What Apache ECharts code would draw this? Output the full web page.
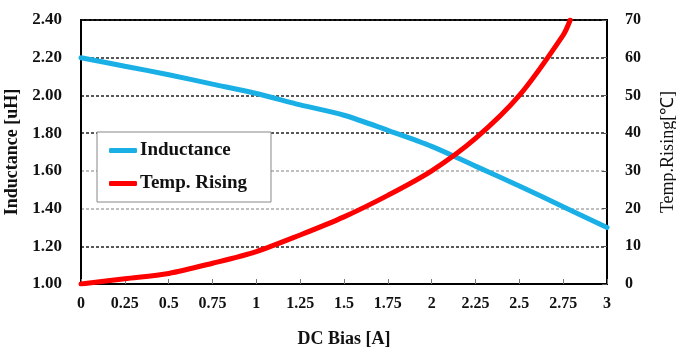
<!DOCTYPE html>
<html>
<head>
<meta charset="utf-8">
<script src="https://cdn.jsdelivr.net/npm/echarts@6/dist/echarts.min.js"></script>
<style>
html,body{margin:0;padding:0;background:#fff;}
#chart{width:676px;height:349px;}
</style>
</head>
<body>
<div id="chart"></div>
<script>
// DC bias [A]
const dcBias = [0, 0.25, 0.5, 0.75, 1.0, 1.25, 1.5, 1.75, 2.0, 2.25, 2.5, 2.75, 3.0];
// Inductance [uH]
const inductance = [2.20, 2.155, 2.11, 2.06, 2.01, 1.95, 1.895, 1.815, 1.73, 1.625, 1.52, 1.41, 1.30];
// Temp rising [°C] (curve leaves the chart at the top near 2.79 A)
const tempBias = [0, 0.25, 0.5, 0.75, 1.0, 1.25, 1.5, 1.75, 2.0, 2.25, 2.5, 2.75, 2.79];
const tempRise = [0, 1.4, 2.8, 5.5, 8.6, 13, 17.8, 23.5, 30, 38.6, 50, 66, 70];

const seriesNames = ['Inductance', 'Temp. Rising'];
const xName = 'DC Bias [A]';
const yLeftName = 'Inductance [uH]';
const yRightName = 'Temp.Rising[℃]';

const font = '"Liberation Serif", "Times New Roman", serif';
const chart = echarts.init(document.getElementById('chart'));
chart.setOption({
  animation: false,
  backgroundColor: '#fff',
  grid: {left: 81, right: 69, top: 20, bottom: 65, containLabel: false, outerBoundsMode: 'none',
         show: true, borderColor: '#000', borderWidth: 2, backgroundColor: 'transparent'},
  legend: {
    orient: 'vertical', left: 97, top: 132,
    backgroundColor: '#fff', borderColor: '#888', borderWidth: 1,
    padding: [9, 24, 9, 12], itemGap: 14,
    itemWidth: 28, itemHeight: 5, icon: 'roundRect',
    textStyle: {fontFamily: font, fontWeight: 'bold', fontSize: 19, color: '#111', padding: [0, 0, 0, -2]},
    data: seriesNames
  },
  xAxis: {
    type: 'value', min: 0, max: 3, interval: 0.25,
    name: xName, nameLocation: 'middle', nameGap: 46,
    nameTextStyle: {fontFamily: font, fontWeight: 'bold', fontSize: 18, color: '#111'},
    axisLine: {show: true, lineStyle: {color: '#000', width: 2}},
    axisTick: {show: true, inside: true, length: 5, lineStyle: {color: '#777'}},
    axisLabel: {fontFamily: font, fontWeight: 'bold', fontSize: 16, color: '#111', margin: 12},
    splitLine: {show: false}
  },
  yAxis: [{
    type: 'value', min: 1.0, max: 2.4, interval: 0.2, position: 'left',
    name: yLeftName, nameLocation: 'middle', nameGap: 49, nameRotate: 90,
    nameTextStyle: {fontFamily: font, fontWeight: 'bold', fontSize: 18, color: '#111'},
    axisLine: {show: true, lineStyle: {color: '#000', width: 2}},
    axisTick: {show: false},
    axisLabel: {fontFamily: font, fontWeight: 'bold', fontSize: 17, color: '#111', margin: 19, formatter: v => v.toFixed(2)},
    splitLine: {show: true, lineStyle: {type: [3, 2], width: 1.5, color: ['#222', '#222', '#aaa', '#aaa', '#222', '#222', '#222', '#222']}}
  }, {
    type: 'value', min: 0, max: 70, interval: 10, position: 'right',
    name: yRightName, nameLocation: 'middle', nameGap: 52, nameRotate: 90,
    nameTextStyle: {fontFamily: font, fontWeight: 'normal', fontSize: 18, color: '#111'},
    axisLine: {show: true, lineStyle: {color: '#000', width: 2}},
    axisTick: {show: true, inside: true, length: 5, lineStyle: {color: '#555'}},
    axisLabel: {fontFamily: font, fontWeight: 'bold', fontSize: 16, color: '#111', margin: 18},
    splitLine: {show: false}
  }],
  series: [{
    name: seriesNames[0], type: 'line', yAxisIndex: 0, smooth: 0.3,
    showSymbol: false, symbol: 'none',
    lineStyle: {color: '#1ab0e6', width: 5, cap: 'round'},
    itemStyle: {color: '#1ab0e6'},
    data: dcBias.map((x, i) => [x, inductance[i]])
  }, {
    name: seriesNames[1], type: 'line', yAxisIndex: 1, smooth: 0.3,
    showSymbol: false, symbol: 'none',
    lineStyle: {color: '#ff0000', width: 5, cap: 'round'},
    itemStyle: {color: '#ff0000'},
    data: tempBias.map((x, i) => [x, tempRise[i]])
  }]
});
</script>
</body>
</html>
